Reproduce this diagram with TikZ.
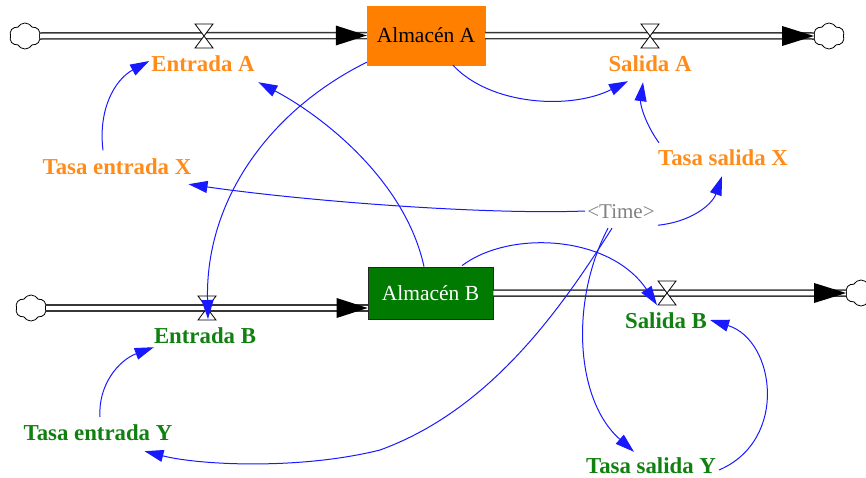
\documentclass[tikz,border=0pt]{standalone}
\usepackage{fontspec}
\setmainfont{Liberation Serif}
\usetikzlibrary{arrows.meta,shapes.symbols,calc}
\definecolor{vorange}{RGB}{255,128,0}
\definecolor{vorangetxt}{RGB}{255,140,26}
\definecolor{vgreen}{RGB}{0,122,0}
\definecolor{vgreentxt}{RGB}{16,128,16}
\definecolor{vblue}{RGB}{25,25,255}
\definecolor{vpipe}{RGB}{55,55,55}
\begin{document}
\begin{tikzpicture}[x=1pt,y=-1pt,
  lab/.style={font=\bfseries\fontsize{22.8}{26}\selectfont, inner sep=1pt, text height=15pt, text depth=0pt},
  orangelab/.style={lab, text=vorangetxt},
  greenlab/.style={lab, text=vgreentxt},
  timelab/.style={font=\fontsize{21}{24}\selectfont, inner sep=1pt, text height=15pt, text depth=0pt, text=gray},
  stockA/.style={draw=vorange, fill=vorange, minimum width=118pt, minimum height=59pt, inner sep=0pt, font=\fontsize{21.5}{24}\selectfont, text=black},
  stockB/.style={draw=black!85, line width=0.8pt, fill=vgreen, minimum width=125pt, minimum height=52pt, inner sep=0pt, font=\fontsize{21.5}{24}\selectfont, text=white},
  conn/.style={draw=vblue, line width=1pt, -{Triangle[length=19pt,width=12pt]}},
  pipe/.style={draw=vpipe, line width=1.5pt, double=white, double distance=4.5pt},
  cloudnode/.style={cloud, cloud puffs=6, cloud puff arc=120, aspect=1.15, draw=black, line width=0.8pt, minimum width=31pt, minimum height=26pt, inner sep=0pt},
  pipetip/.style={fill=black},
  valve/.pic={\draw[fill=white, draw=black, line width=0.8pt] (-9,-12) -- (9,-12) -- (-9,12) -- (9,12) -- cycle;}
]
\useasboundingbox (0,0) rectangle (866,477);
\clip (0,0) rectangle (866,477);

% clouds
\node[cloudnode] (cAL) at (25,36) {};
\node[cloudnode] (cAR) at (829,36) {};
\node[cloudnode] (cBL) at (31,308) {};
\node[cloudnode] (cBR) at (861,293) {};

% stocks
\node[stockA] (boxA) at (426,35.5) {Almacén A};
\node[stockB] (boxB) at (430.5,293) {Almacén B};

% valves positions
\coordinate (vEA) at (204,36);
\coordinate (vSA) at (650,36);
\coordinate (vEB) at (207,308);
\coordinate (vSB) at (667,293);

% pipes
\draw[pipe] (cAL.east) -- (boxA.west);
\draw[pipe] (boxA.east) -- (cAR.west);
\draw[pipe] (cBL.east) -- (cBL.east -| boxB.west);
\draw[pipe] (boxB.east) -- (cBR.west);

% pipe arrowheads
\fill[pipetip] (boxA.west) -- +(-31,-10) -- +(-31,10) -- cycle;
\fill[pipetip] (cAR.west) -- +(-32,-10) -- +(-32,10) -- cycle;
\fill[pipetip] (cBL.east -| boxB.west) -- +(-31,-10) -- +(-31,10) -- cycle;
\fill[pipetip] (cBR.west) -- +(-32,-10) -- +(-32,10) -- cycle;

% valves
\pic at (vEA) {valve};
\pic at (vSA) {valve};
\pic at (vEB) {valve};
\pic at (vSB) {valve};

% labels
\node[orangelab] (ea) at (203,64) {Entrada A};
\node[orangelab] (sa) at (650,64) {Salida A};
\node[orangelab] (tex) at (117,167) {Tasa entrada X};
\node[orangelab] (tsx) at (723,158) {Tasa salida X};
\node[timelab] (time) at (621,211) {<Time>};
\node[greenlab] (eb) at (205,336) {Entrada B};
\node[greenlab] (sb) at (666,321) {Salida B};
\node[greenlab] (tey) at (98,433) {Tasa entrada Y};
\node[greenlab] (tsy) at (651,466) {Tasa salida Y};

% connectors
\draw[conn] ($(tex.north)+(-14,-8)$) .. controls +(-5,-40) and +(-35,19) .. ($(ea.west)+(-1,-3)$);
\draw[conn] ($(boxB.north)+(-6.5,0)$) .. controls +(-19,-87) and +(63,33) .. ($(ea.south east)+(2.5,9.5)$);
\draw[conn] ($(boxA.south west)+(0,-3)$) .. controls +(-97,48) and +(-3,-119) .. ($(vEB)+(1,11)$);
\draw[conn] ($(boxA.south)+(27,0)$) .. controls +(37,40) and +(-58,29) .. ($(sa.south)+(-22,8.5)$);
\draw[conn] ($(tsx.north west)+(2,-6.5)$) .. controls +(-13,-18) and +(-3,23) .. ($(sa.south)+(-7,9.5)$);
\draw[conn] ($(time.west)+(-1,0)$) .. controls +(-105,4) and +(110,16) .. ($(tex.south east)+(-4,8.5)$);
\draw[conn] ($(time.south east)+(2,5.5)$) .. controls +(32,-3) and +(-10,29) .. ($(tsx.south)+(-1,9.5)$);
\draw[conn] ($(time.south)+(-9,8.5)$) .. controls +(-52,82) and +(110,-40) .. (380,450) .. controls +(-80,20) and +(55,14) .. ($(tey.south east)+(-29,9.5)$);
\draw[conn] ($(time.south)+(-13,8.5)$) .. controls +(-38,72) and +(-59,-52) .. ($(tsy.north)+(-17,-5.5)$);
\draw[conn] ($(boxB.north)+(31.5,-1)$) .. controls +(48,-36) and +(-47,-70) .. ($(vSB)+(-10,12)$);
\draw[conn] ($(tey.north)+(2,-7.5)$) .. controls +(-2,-32) and +(-35,13) .. ($(eb.south west)+(1,2.5)$);
\draw[conn] ($(tsy.east)+(2,4)$) .. controls +(70,-30) and +(65,20) .. ($(sb.east)+(2,-1)$);
\end{tikzpicture}
\end{document}
